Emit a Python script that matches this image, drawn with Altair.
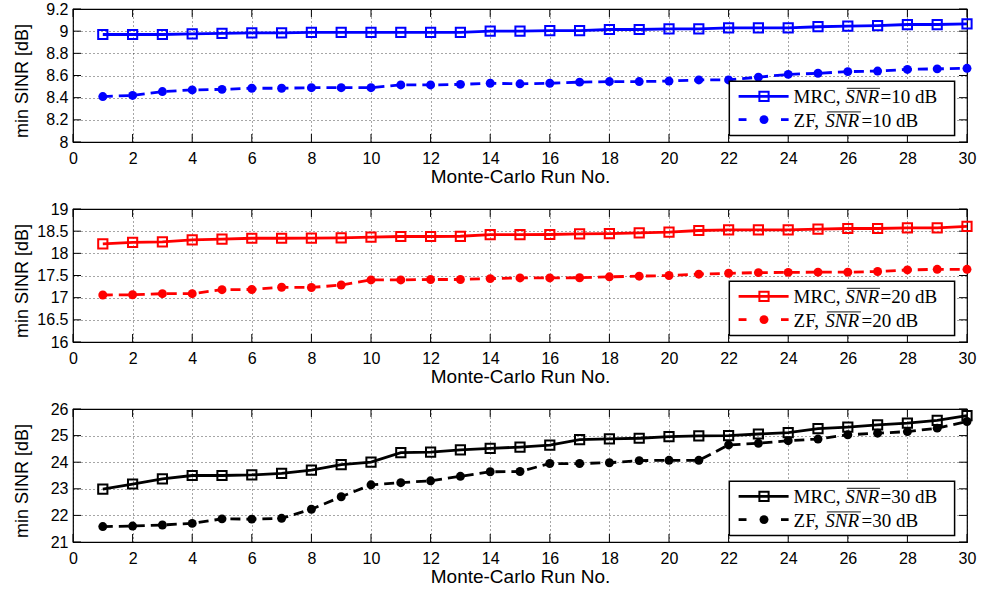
import altair as alt
import pandas as pd

# ---------------- data ----------------
runs = list(range(1, 31))

mrc_10 = [8.97, 8.97, 8.97, 8.975, 8.98, 8.985, 8.985, 8.99, 8.99, 8.99,
          8.99, 8.99, 8.99, 9.0, 9.0, 9.005, 9.005, 9.015, 9.015, 9.02,
          9.02, 9.03, 9.03, 9.03, 9.04, 9.045, 9.05, 9.06, 9.06, 9.065]
zf_10 = [8.41, 8.42, 8.455, 8.47, 8.475, 8.485, 8.485, 8.49, 8.49, 8.49,
         8.515, 8.515, 8.52, 8.53, 8.525, 8.53, 8.54, 8.545, 8.545, 8.55,
         8.56, 8.56, 8.585, 8.61, 8.62, 8.635, 8.64, 8.655, 8.66, 8.665]

mrc_20 = [18.215, 18.245, 18.26, 18.305, 18.32, 18.34, 18.34, 18.345, 18.35, 18.365,
          18.38, 18.38, 18.385, 18.42, 18.42, 18.425, 18.44, 18.445, 18.46, 18.48,
          18.515, 18.53, 18.53, 18.53, 18.545, 18.56, 18.56, 18.575, 18.575, 18.61]
zf_20 = [17.06, 17.065, 17.09, 17.09, 17.18, 17.185, 17.235, 17.23, 17.285, 17.4,
         17.4, 17.41, 17.41, 17.43, 17.445, 17.445, 17.45, 17.47, 17.485, 17.5,
         17.53, 17.55, 17.565, 17.57, 17.575, 17.575, 17.59, 17.625, 17.64, 17.64]

mrc_30 = [22.99, 23.18, 23.37, 23.5, 23.5, 23.52, 23.58, 23.7, 23.91, 24.0,
          24.36, 24.38, 24.46, 24.52, 24.57, 24.64, 24.85, 24.88, 24.9, 24.96,
          24.99, 25.0, 25.06, 25.11, 25.26, 25.32, 25.4, 25.47, 25.57, 25.75]
zf_30 = [21.58, 21.6, 21.64, 21.7, 21.87, 21.86, 21.89, 22.23, 22.7, 23.15,
         23.23, 23.3, 23.47, 23.64, 23.65, 23.95, 23.95, 23.98, 24.06, 24.07,
         24.07, 24.65, 24.71, 24.81, 24.87, 25.03, 25.09, 25.15, 25.28, 25.53]

x_ticks = list(range(0, 31, 2))
y_ticks_10 = [8, 8.2, 8.4, 8.6, 8.8, 9, 9.2]
y_ticks_20 = [16, 16.5, 17, 17.5, 18, 18.5, 19]
y_ticks_30 = [21, 22, 23, 24, 25, 26]

snr_labels = ["=10 dB", "=20 dB", "=30 dB"]
method_labels = ["MRC, ", "ZF, "]
snr_symbol = "SNR"
colors = ["#0000ff", "#ff0000", "#000000"]
x_title = "Monte-Carlo Run No."
y_title = "min SINR [dB]"

# ---------------- layout constants ----------------
W, H = 894, 133
SANS = "Liberation Sans"
SERIF = "Liberation Serif"


def panel(mrc, zf, color, ydom, yticks, snr_lab):
    df = pd.DataFrame({"run": runs, "mrc": mrc, "zf": zf})
    xs = alt.Scale(domain=[0, 30], nice=False, zero=False)
    ys = alt.Scale(domain=ydom, nice=False, zero=False)

    xaxis = alt.Axis(values=x_ticks, title=x_title, grid=True, gridDash=[1, 3],
                     gridColor="#000000", gridOpacity=0.7, gridWidth=1,
                     ticks=False, domain=False, labelFont=SANS, labelFontSize=16,
                     labelColor="#000000", labelPadding=8, labelFlush=False,
                     titleFont=SANS, titleFontSize=19, titleFontWeight="normal",
                     titleColor="#000000", titleY=40.7, titleBaseline="alphabetic")
    yaxis = alt.Axis(values=yticks, title=y_title, grid=True, gridDash=[1, 3],
                     gridColor="#000000", gridOpacity=0.7, gridWidth=1,
                     ticks=False, domain=False, labelFont=SANS, labelFontSize=16,
                     labelColor="#000000", labelPadding=5, format="~g",
                     titleFont=SANS, titleFontSize=18, titleFontWeight="normal",
                     titleColor="#000000", titleX=-51, titleY=H / 2 + 5,
                     titleAlign="center", titleBaseline="middle", titleAngle=270)

    X = lambda f: alt.X(f, scale=xs, axis=xaxis)
    Y = lambda f: alt.Y(f, scale=ys, axis=yaxis)

    mrc_line = alt.Chart(df).mark_line(color=color, strokeWidth=2.8).encode(
        x=X("run:Q"), y=Y("mrc:Q"))
    mrc_pts = alt.Chart(df).mark_point(shape="square", filled=False, color=color,
                                       size=85, strokeWidth=2, opacity=1).encode(
        x=X("run:Q"), y=Y("mrc:Q"))
    zf_line = alt.Chart(df).mark_line(color=color, strokeWidth=2.8,
                                      strokeDash=[10, 6]).encode(
        x=X("run:Q"), y=Y("zf:Q"))
    zf_pts = alt.Chart(df).mark_point(shape="circle", filled=True, color=color,
                                      size=80, opacity=1).encode(
        x=X("run:Q"), y=Y("zf:Q"))

    xt = pd.DataFrame({"t": x_ticks})
    yt = pd.DataFrame({"t": yticks})
    tick_style = dict(color="#000000", strokeWidth=1)
    xt_top = alt.Chart(xt).mark_rule(**tick_style).encode(
        x=X("t:Q"), y=alt.value(0), y2=alt.value(8))
    xt_bot = alt.Chart(xt).mark_rule(**tick_style).encode(
        x=X("t:Q"), y=alt.value(H - 8), y2=alt.value(H))
    yt_left = alt.Chart(yt).mark_rule(**tick_style).encode(
        y=Y("t:Q"), x=alt.value(0), x2=alt.value(8))
    yt_right = alt.Chart(yt).mark_rule(**tick_style).encode(
        y=Y("t:Q"), x=alt.value(W - 8), x2=alt.value(W))

    one = pd.DataFrame({"k": [0]})
    box = alt.Chart(one).mark_rect(fill="white", stroke="black", strokeWidth=1.5).encode(
        x=alt.value(656.3), x2=alt.value(881.6), y=alt.value(72.3), y2=alt.value(126.6))

    r1, r2 = 87.3, 110.6
    leg_line1 = alt.Chart(one).mark_rule(color=color, strokeWidth=2.8).encode(
        x=alt.value(665.6), x2=alt.value(715.6), y=alt.value(r1))
    leg_sq = alt.Chart(one).mark_point(shape="square", filled=False, color=color,
                                       size=85, strokeWidth=2, opacity=1).encode(
        x=alt.value(691), y=alt.value(r1))
    leg_dash_a = alt.Chart(one).mark_rule(color=color, strokeWidth=2.8).encode(
        x=alt.value(665.6), x2=alt.value(673.5), y=alt.value(r2))
    leg_dash_b = alt.Chart(one).mark_rule(color=color, strokeWidth=2.8).encode(
        x=alt.value(708), x2=alt.value(715.6), y=alt.value(r2))
    leg_circ = alt.Chart(one).mark_point(shape="circle", filled=True, color=color,
                                         size=80, opacity=1).encode(
        x=alt.value(691), y=alt.value(r2))

    txt = dict(align="left", baseline="alphabetic", font=SERIF, fontSize=19,
               color="#000000")
    layers = [box, leg_line1, leg_sq, leg_dash_a, leg_dash_b, leg_circ]
    rows = [(method_labels[0], 94.0, 772.3, 807.5),
            (method_labels[1], 117.6, 752.3, 788.5)]
    for lab, base_y, snr_x, eq_x in rows:
        layers.append(alt.Chart(one).mark_text(**txt).encode(
            x=alt.value(720.6), y=alt.value(base_y), text=alt.value(lab)))
        layers.append(alt.Chart(one).mark_text(fontStyle="italic", **txt).encode(
            x=alt.value(snr_x), y=alt.value(base_y), text=alt.value(snr_symbol)))
        layers.append(alt.Chart(one).mark_text(**txt).encode(
            x=alt.value(eq_x), y=alt.value(base_y), text=alt.value(snr_lab)))
        layers.append(alt.Chart(one).mark_rule(color="#000000", strokeWidth=0.9).encode(
            x=alt.value(snr_x + 1.5), x2=alt.value(eq_x - 0.5),
            y=alt.value(base_y - 14.7)))

    return alt.layer(zf_line, mrc_line, xt_top, xt_bot, yt_left, yt_right,
                     zf_pts, mrc_pts, *layers).properties(width=W, height=H)


p1 = panel(mrc_10, zf_10, colors[0], [8, 9.2], y_ticks_10, snr_labels[0])
p2 = panel(mrc_20, zf_20, colors[1], [16, 19], y_ticks_20, snr_labels[1])
p3 = panel(mrc_30, zf_30, colors[2], [21, 26], y_ticks_30, snr_labels[2])

chart = alt.vconcat(p1, p2, p3, spacing=12).properties(
    padding={"left": 12, "top": 0, "right": 0, "bottom": 0},
    background="white",
).configure_view(stroke="#000000", strokeWidth=1.2)

chart.save("out.html", embed_options={"renderer": "svg", "actions": False})
